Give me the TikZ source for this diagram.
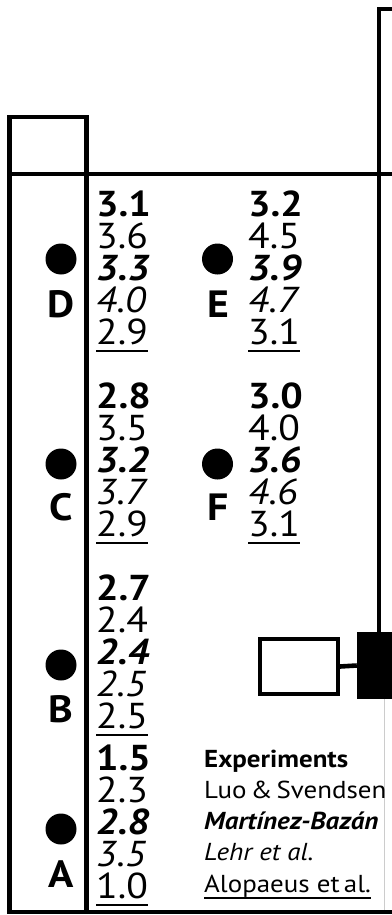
\documentclass[tikz,border=0pt]{standalone}
\usepackage{fontspec}
\setmainfont{PT Sans}[FakeStretch=1.1]
\newcommand{\uline}[2][8pt]{\setbox0\hbox{#2}\rlap{\rule[-#1]{\wd0}{2.2pt}}\box0}
\newcommand{\vals}[5]{\textbf{#1}\\#2\\\textbf{\textit{#3}}\\\textit{#4}\\\uline{#5}}

\begin{document}
\begin{tikzpicture}[x=1pt,y=-1pt,
  frame/.style={line width=4.6pt},
  numcol/.style={anchor=base west,inner sep=0pt,align=left,font=\fontsize{36}{32}\selectfont},
  legend/.style={anchor=base west,inner sep=0pt,align=left,font=\fontsize{24.5}{31.2}\selectfont},
  point/.style={anchor=base,inner sep=0pt,font=\bfseries\fontsize{38}{38}\selectfont},
  dot/.style={circle,fill=black,minimum size=31pt,inner sep=0pt}]

\useasboundingbox (0,0) rectangle (391,915);

% frame
\draw[frame] (9.5,912) -- (9.5,117) -- (86.5,117) -- (86.5,912);
\draw[frame] (7.2,174) -- (396,174);
\draw[frame] (7.2,912) -- (396,912);
\draw[frame] (396,9) -- (379,9) -- (379,634);
\draw[gray!40,line width=1pt] (384,699) -- (384,910);

% inlet
\node[draw,line width=4pt,minimum width=78pt,minimum height=55pt,inner sep=0pt] (valve) at (299,666.5) {};
\node[fill=black,minimum width=40pt,minimum height=67pt,inner sep=0pt] (tank) at (377,665.5) {};
\draw[frame] (valve.east) -- (tank.west);

% points
\node[dot] (dD) at (61,259) {};
\node[dot] (dE) at (217.5,259) {};
\node[dot] (dC) at (61,464) {};
\node[dot] (dF) at (217.5,464) {};
\node[dot] (dB) at (61,665) {};
\node[dot] (dA) at (61,829) {};

\node[point] (pD) at (61.5,317) {D};
\node[point] (pE) at (218,317) {E};
\node[point] (pC) at (61,520.5) {C};
\node[point] (pF) at (218,520.5) {F};
\node[point] (pB) at (61,722) {B};
\node[point] (pA) at (61,887) {A};

% values (base = last line)
\node[numcol] (vD) at (96,344) {\vals{3.1}{3.6}{3.3}{4.0}{2.9}};
\node[numcol] (vE) at (248,344) {\vals{3.2}{4.5}{3.9}{4.7}{3.1}};
\node[numcol] (vC) at (96,536) {\vals{2.8}{3.5}{3.2}{3.7}{2.9}};
\node[numcol] (vF) at (248,536) {\vals{3.0}{4.0}{3.6}{4.6}{3.1}};
\node[numcol] (vB) at (96,728) {\vals{2.7}{2.4}{2.4}{2.5}{2.5}};
\node[numcol] (vA) at (96,898) {\vals{1.5}{2.3}{2.8}{3.5}{1.0}};

% legend
\node[legend] (exp) at (204,892) {\textbf{Experiments}\\Luo\,\&\,Svendsen\\\textbf{\textit{Martínez-Bazán}}\\\textit{Lehr et al.}\\\uline[7pt]{Alopaeus et\,al.}};
\end{tikzpicture}
\end{document}
